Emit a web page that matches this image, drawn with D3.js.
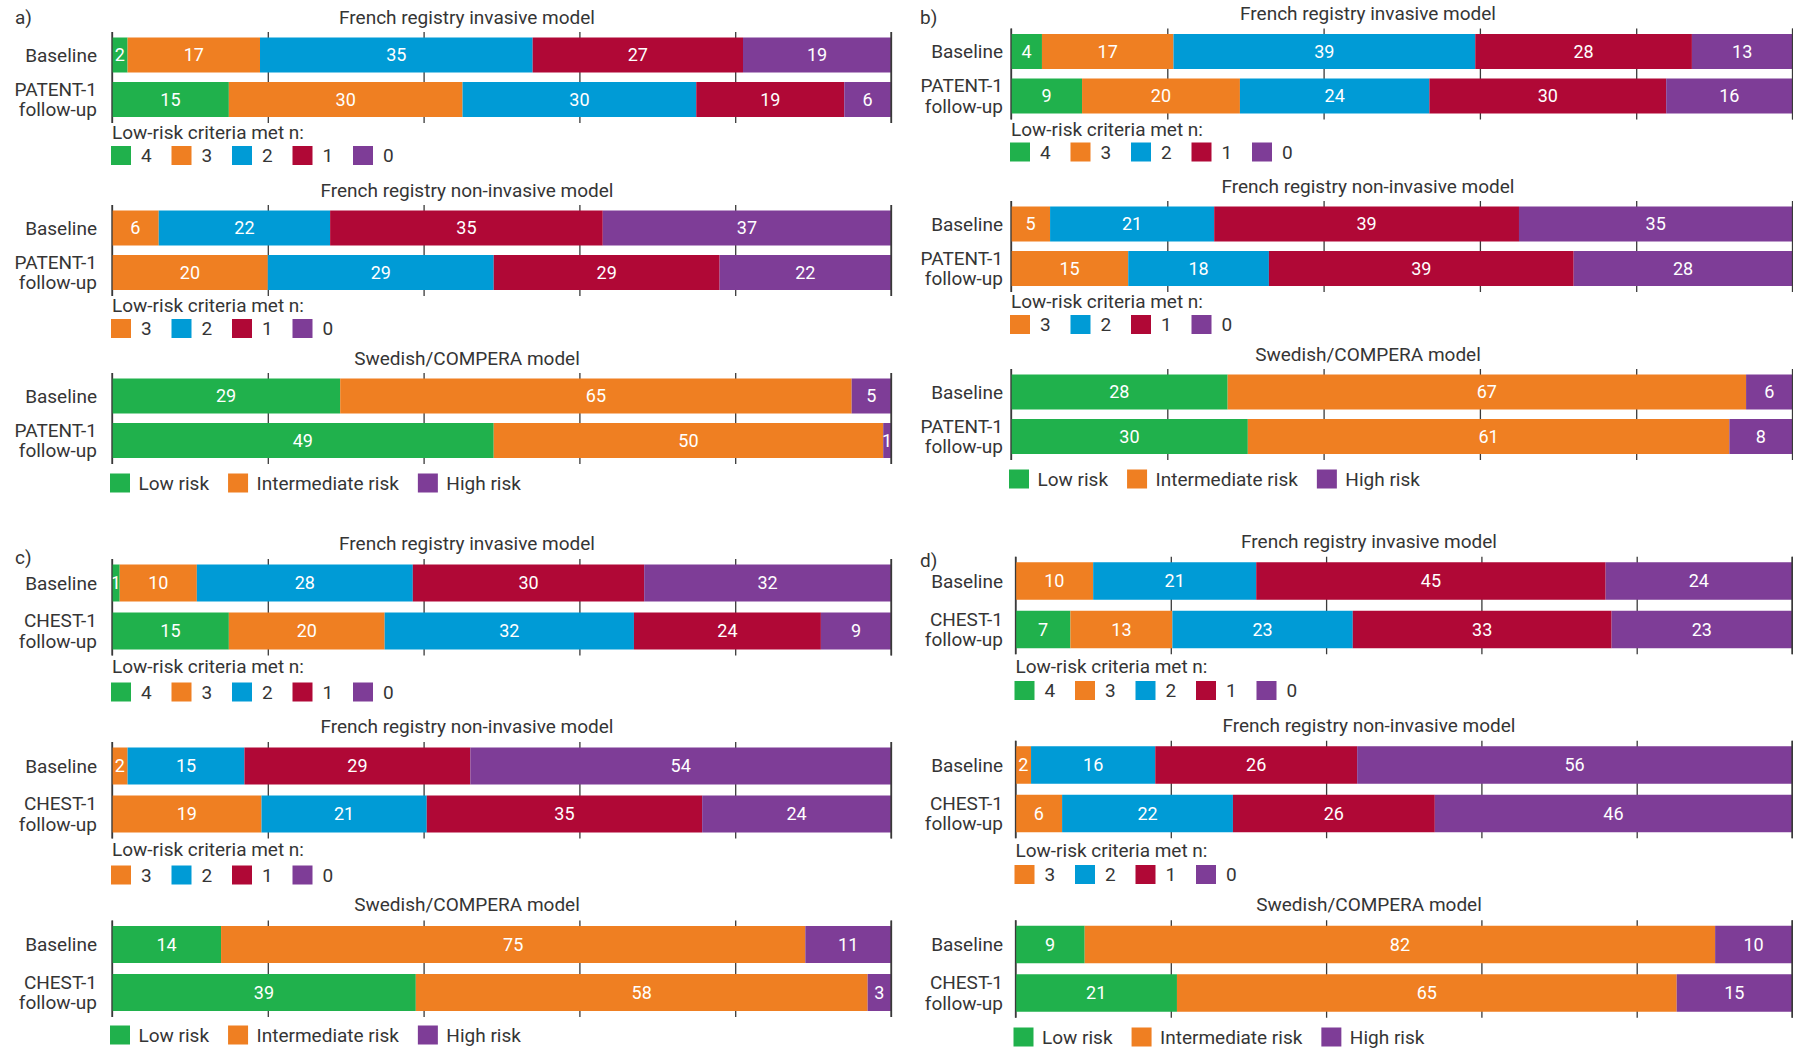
<!DOCTYPE html>
<html>
<head>
<meta charset="utf-8">
<script src="https://cdn.jsdelivr.net/npm/d3@7"></script>
<style>
body { margin: 0; background: #fff; }
svg { display: block; font-family: Roboto, 'Liberation Sans', sans-serif; }
</style>
</head>
<body>
<svg id="chart"></svg>
<script>
// categories and ticks
var criteriaInvasive = ['4', '3', '2', '1', '0'];
var criteriaNonInvasive = ['3', '2', '1', '0'];
var swedishRisk = ['Low risk', 'Intermediate risk', 'High risk'];
var ticks = [0, 20, 40, 60, 80, 100];
var modelTitles = ['French registry invasive model', 'French registry non-invasive model', 'Swedish/COMPERA model'];

// values, % of patients: [baseline, follow-up]
var aInvasive = [[2, 17, 35, 27, 19], [15, 30, 30, 19, 6]];
var aNonInvasive = [[6, 22, 35, 37], [20, 29, 29, 22]];
var aSwedish = [[29, 65, 5], [49, 50, 1]];

var bInvasive = [[4, 17, 39, 28, 13], [9, 20, 24, 30, 16]];
var bNonInvasive = [[5, 21, 39, 35], [15, 18, 39, 28]];
var bSwedish = [[28, 67, 6], [30, 61, 8]];

var cInvasive = [[1, 10, 28, 30, 32], [15, 20, 32, 24, 9]];
var cNonInvasive = [[2, 15, 29, 54], [19, 21, 35, 24]];
var cSwedish = [[14, 75, 11], [39, 58, 3]];

var dInvasive = [[0, 10, 21, 45, 24], [7, 13, 23, 33, 23]];
var dNonInvasive = [[2, 16, 26, 56], [6, 22, 26, 46]];
var dSwedish = [[9, 82, 10], [21, 65, 15]];

var green = '#20b14c', orange = '#ef7f22', blue = '#009bd6', red = '#b00836', purple = '#7e3d97';
var colInvasive = [green, orange, blue, red, purple];
var colNonInvasive = [orange, blue, red, purple];
var colSwedish = [green, orange, purple];
var textCol = '#353535';

var panels = [
	{ tag: 'a)', study: 'PATENT-1', data: [aInvasive, aNonInvasive, aSwedish],
	  x0: 112, x1: 891, labelX: 97, titleX: 467, tagX: 15, tagY: 17,
	  bar1: [55, 228, 396], pitch: 44.5, barH: 35, titleOff: -38, legTitleOff: 33, swatchOff: 56, sweOff: 42.5 },
	{ tag: 'b)', study: 'PATENT-1', data: [bInvasive, bNonInvasive, bSwedish],
	  x0: 1011, x1: 1792.5, labelX: 1003, titleX: 1368, tagX: 920, tagY: 17,
	  bar1: [51.5, 224, 392], pitch: 44.5, barH: 35, titleOff: -38, legTitleOff: 33, swatchOff: 56, sweOff: 42.5 },
	{ tag: 'c)', study: 'CHEST-1', data: [cInvasive, cNonInvasive, cSwedish],
	  x0: 112, x1: 891, labelX: 97, titleX: 467, tagX: 15, tagY: 557,
	  bar1: [583, 766, 944.5], pitch: 48, barH: 37, titleOff: -40, legTitleOff: 35, swatchOff: 61, sweOff: 42.5 },
	{ tag: 'd)', study: 'CHEST-1', data: [dInvasive, dNonInvasive, dSwedish],
	  x0: 1015.5, x1: 1792, labelX: 1003, titleX: 1369, tagX: 920, tagY: 560,
	  bar1: [581, 765, 944.5], pitch: 48.5, barH: 37.5, titleOff: -40, legTitleOff: 36.5, swatchOff: 61, sweOff: 44 }
];

var blockCats = [criteriaInvasive, criteriaNonInvasive, swedishRisk];
var blockCols = [colInvasive, colNonInvasive, colSwedish];

var svg = d3.select('#chart').attr('width', 1793).attr('height', 1048);
svg.append('rect').attr('width', 1793).attr('height', 1048).attr('fill', '#fff');

var drawRow = function(g, vals, cols, x0, x1, cy, h) {
	var total = d3.sum(vals);
	var x = d3.scaleLinear().domain([0, total]).range([x0, x1]);
	var ends = d3.cumsum(vals);
	var segs = vals.map(function(v, i) {
		return { v: v, start: ends[i] - v, end: ends[i], color: cols[i] };
	}).filter(function(d) { return d.v > 0; });

	g.selectAll(null).data(segs).enter().append('rect')
		.attr('x', function(d) { return x(d.start); })
		.attr('y', cy - h / 2)
		.attr('width', function(d) { return x(d.end) - x(d.start); })
		.attr('height', h)
		.attr('fill', function(d) { return d.color; });

	g.selectAll(null).data(segs).enter().append('text')
		.attr('x', function(d) { return (x(d.start) + x(d.end)) / 2; })
		.attr('y', cy)
		.attr('dy', '0.36em')
		.attr('text-anchor', 'middle')
		.attr('fill', '#fff')
		.style('font-size', '18px')
		.text(function(d) { return d.v; });
};

panels.forEach(function(p) {
	var pg = svg.append('g');
	var x = d3.scaleLinear().domain([0, 100]).range([p.x0, p.x1]);

	pg.append('text')
		.attr('x', p.tagX).attr('y', p.tagY).attr('dy', '0.36em')
		.attr('fill', textCol).style('font-size', '19px')
		.text(p.tag);

	p.data.forEach(function(rows, b) {
		var g = pg.append('g');
		var c1 = p.bar1[b], c2 = c1 + p.pitch;
		var top = c1 - p.barH / 2 - 5.5, bottom = c2 + p.barH / 2 + 6;

		g.append('text')
			.attr('x', p.titleX).attr('y', c1 + p.titleOff).attr('dy', '0.36em')
			.attr('text-anchor', 'middle').attr('fill', textCol)
			.style('font-size', '19px')
			.text(modelTitles[b]);

		// tick lines behind bars
		var axis = g.append('g')
			.attr('transform', 'translate(0,' + bottom + ')')
			.call(d3.axisBottom(x).tickValues(ticks).tickSize(-(bottom - top)).tickFormat(''));
		axis.select('.domain').remove();
		axis.selectAll('line').attr('stroke', '#3a3a3a').attr('stroke-width', 1.3);

		drawRow(g, rows[0], blockCols[b], p.x0, p.x1, c1, p.barH);
		drawRow(g, rows[1], blockCols[b], p.x0, p.x1, c2, p.barH);

		// axis edges on top
		g.selectAll(null).data([0, 100]).enter().append('line')
			.attr('x1', function(d) { return x(d); }).attr('x2', function(d) { return x(d); })
			.attr('y1', top).attr('y2', bottom)
			.attr('stroke', '#3a3a3a').attr('stroke-width', 1.3);

		// row labels
		g.append('text')
			.attr('x', p.labelX).attr('y', c1).attr('dy', '0.36em')
			.attr('text-anchor', 'end').attr('fill', textCol).style('font-size', '19px')
			.text('Baseline');
		var fl = g.append('text')
			.attr('text-anchor', 'end').attr('fill', textCol).style('font-size', '19px');
		fl.append('tspan').attr('x', p.labelX).attr('y', c2 - 10.5).attr('dy', '0.36em').text(p.study);
		fl.append('tspan').attr('x', p.labelX).attr('y', c2 + 10).attr('dy', '0.36em').text('follow-up');

		// legend
		var cats = blockCats[b], cols = blockCols[b];
		var lx = p.x0 - 1;
		if (b < 2) {
			g.append('text')
				.attr('x', p.x0).attr('y', c2 + p.legTitleOff).attr('dy', '0.36em')
				.attr('fill', textCol).style('font-size', '19px')
				.text('Low-risk criteria met n:');
			var sy = c2 + p.swatchOff;
			cats.forEach(function(cat, i) {
				var sx = lx + i * 60.5;
				g.append('rect').attr('x', sx).attr('y', sy - 9.5).attr('width', 20).attr('height', 19).attr('fill', cols[i]);
				g.append('text').attr('x', sx + 30).attr('y', sy).attr('dy', '0.36em')
					.attr('fill', textCol).style('font-size', '19px').text(cat);
			});
		} else {
			var sy2 = c2 + p.sweOff;
			var cx = lx - 1;
			cats.forEach(function(cat, i) {
				g.append('rect').attr('x', cx).attr('y', sy2 - 9.5).attr('width', 20).attr('height', 19).attr('fill', cols[i]);
				var t = g.append('text').attr('x', cx + 28.5).attr('y', sy2).attr('dy', '0.36em')
					.attr('fill', textCol).style('font-size', '19px').text(cat);
				cx += 28.5 + t.node().getComputedTextLength() + 19;
			});
		}
	});
});
</script>
</body>
</html>
